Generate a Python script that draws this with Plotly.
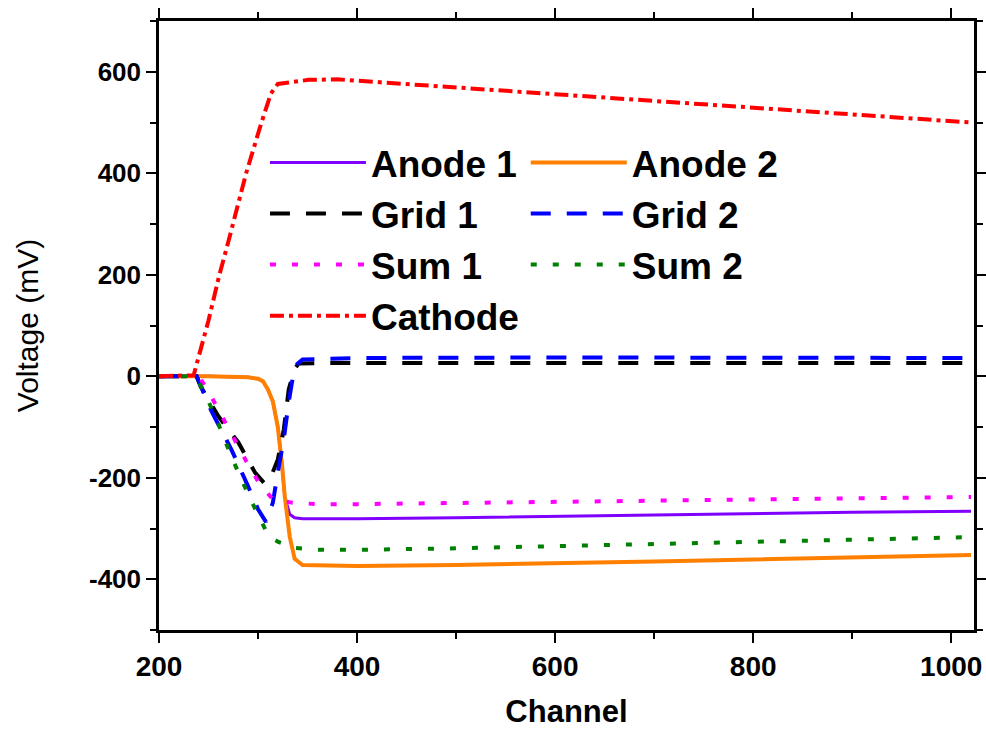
import plotly.graph_objects as go

# ---------------- data ----------------
anode_ch = [200, 250, 290, 300, 305, 310, 315, 320, 324, 327, 332, 337, 345, 400, 500, 600, 700, 800, 900, 1020]
anode1_mv = [0, 0, -2, -5, -10, -26, -50, -100, -170, -237, -272, -279, -281, -281, -279, -276, -273, -270, -268, -266]
anode2_mv = [0, 0, -2, -5, -10, -26, -50, -100, -170, -237, -316, -360, -372, -374, -372, -369, -365, -361, -357, -352]

grid1_ch = [200, 238, 242, 260, 280, 297, 306, 311, 320, 326, 331, 337, 341, 360, 500, 700, 900, 1020]
grid1_mv = [0, 0, -20, -79, -130, -190, -210, -208, -164, -105, -26, 15, 25, 26, 26, 26, 26, 26]

grid2_ch = [200, 238, 253, 273, 290, 300, 308, 315, 320, 326, 331, 337, 345, 400, 600, 800, 1020]
grid2_mv = [0, 0, -69, -144, -217, -262, -287, -249, -189, -124, -51, 20, 33, 36, 37, 37, 36]

sum1_ch = [200, 240, 250, 265, 288, 300, 315, 334, 360, 400, 500, 600, 700, 800, 900, 1020]
sum1_mv = [0, 0, -30, -85, -167, -207, -243, -249, -252, -252, -250, -248, -246, -243, -240, -238]

sum2_ch = [200, 235, 239, 249, 260, 273, 291, 311, 320, 337, 360, 400, 500, 600, 700, 800, 900, 1020]
sum2_mv = [0, 0, -6, -45, -94, -158, -237, -316, -326, -338, -342, -342, -339, -335, -331, -326, -322, -317]

cathode_ch = [200, 235, 250, 261, 270, 288, 303, 313, 320, 334, 351, 380, 500, 600, 700, 800, 900, 1020]
cathode_mv = [0, 2, 110, 200, 265, 400, 497, 557, 576, 580, 584, 585, 569, 556, 542, 529, 516, 500]

x_ticks = [200, 400, 600, 800, 1000]
y_ticks = [-400, -200, 0, 200, 400, 600]

FONT = "Liberation Sans, Arial, sans-serif"

series = [
    ("Anode 1", anode_ch, anode1_mv, "#8000FF", "solid", 3, "legend"),
    ("Anode 2", anode_ch, anode2_mv, "#FF8000", "solid", 4, "legend2"),
    ("Grid 1", grid1_ch, grid1_mv, "#000000", "20px,16px", 4, "legend"),
    ("Grid 2", grid2_ch, grid2_mv, "#0000FF", "20px,16px", 4, "legend2"),
    ("Sum 1", sum1_ch, sum1_mv, "#FF00FF", "6px,16px", 4, "legend"),
    ("Sum 2", sum2_ch, sum2_mv, "#008000", "6px,16px", 4, "legend2"),
    ("Cathode", cathode_ch, cathode_mv, "#FF0000", "14px,5px,4px,5px", 4, "legend"),
]

fig = go.Figure()
for name, xs, ys, color, dash, width, leg in series:
    fig.add_trace(go.Scatter(
        x=xs, y=ys, mode="lines", name=name,
        line=dict(color=color, dash=dash, width=width),
        legend=leg, legendgroup=name,
    ))

legend_common = dict(
    font=dict(family=FONT, size=37, color="black", weight="bold"),
    bgcolor="rgba(0,0,0,0)", borderwidth=0,
    itemwidth=96, traceorder="grouped", tracegroupgap=0,
    xanchor="left", yanchor="top", orientation="v",
)

fig.update_layout(
    width=986, height=729,
    margin=dict(l=159, r=12, t=21, b=99),
    paper_bgcolor="white", plot_bgcolor="white",
    showlegend=True,
    legend=dict(x=0.130, y=0.818, **legend_common),
    legend2=dict(x=0.450, y=0.818, **legend_common),
)

axis_common = dict(
    showline=True, linecolor="black", linewidth=2.5, mirror="allticks",
    ticks="outside", ticklen=10, tickwidth=2, tickcolor="black",
    showgrid=False, zeroline=False, automargin=False,
)

fig.update_xaxes(
    range=[200, 1023], tickvals=x_ticks, ticktext=[str(v) for v in x_ticks],
    minor=dict(dtick=100, tick0=200, ticks="outside", ticklen=6, tickwidth=2, tickcolor="black", showgrid=False),
    tickfont=dict(family=FONT, size=28, color="black", weight="bold"),
    title=dict(text="Channel", font=dict(family=FONT, size=31, color="black", weight="bold"), standoff=22),
    **axis_common,
)
fig.update_yaxes(
    range=[-500, 700], tickvals=y_ticks, ticktext=[str(v) for v in y_ticks],
    minor=dict(dtick=100, tick0=0, ticks="outside", ticklen=6, tickwidth=2, tickcolor="black", showgrid=False),
    tickfont=dict(family=FONT, size=26, color="black", weight="bold"),
    title=dict(text="Voltage (mV)", font=dict(family=FONT, size=30, color="black"), standoff=42),
    **axis_common,
)

fig.write_html("out.html")
